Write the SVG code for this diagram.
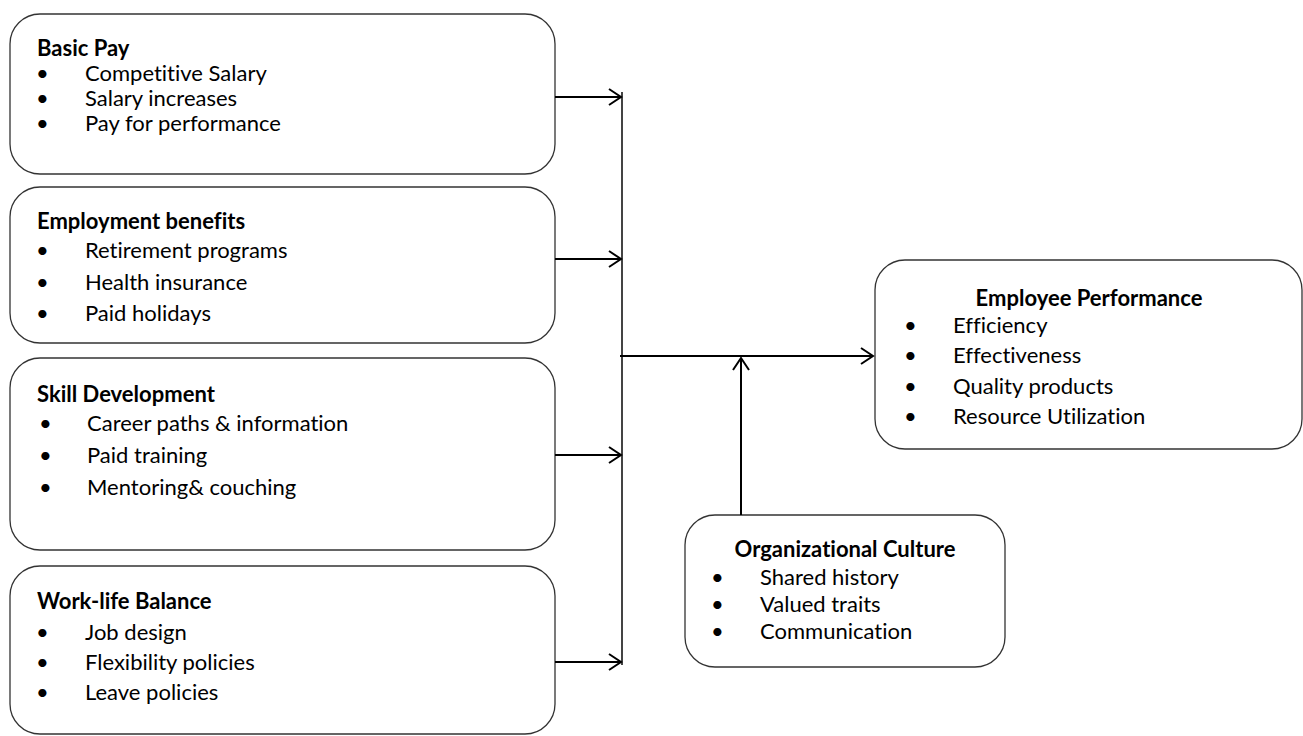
<svg xmlns="http://www.w3.org/2000/svg" width="1303" height="736" viewBox="0 0 1303 736">
<defs>
<marker id="arr" markerUnits="userSpaceOnUse" markerWidth="16" markerHeight="20" refX="13" refY="9" orient="auto">
<path d="M1,1 L13,9 L1,17" fill="none" stroke="#000" stroke-width="2"/>
</marker>
<style>
.box{fill:#fff;stroke:#333;stroke-width:1.3}
.t{font-family:Lato,"Liberation Sans",sans-serif;font-size:22px;fill:#000;font-variant-ligatures:none}
.b{font-weight:bold}
.c{stroke:#000;stroke-width:2;fill:none}
</style>
</defs>
<rect width="1303" height="736" fill="#fff"/>
<g id="basic-pay">
<rect class="box" x="10" y="14" width="545" height="160" rx="30"/>
<text class="t b" x="37" y="56">Basic Pay</text>
<text class="t" x="36" y="81">•</text><text class="t" x="85" y="81">Competitive Salary</text>
<text class="t" x="36" y="106">•</text><text class="t" x="85" y="106">Salary increases</text>
<text class="t" x="36" y="131">•</text><text class="t" x="85" y="131">Pay for performance</text>
</g>
<g id="employment-benefits">
<rect class="box" x="10" y="187" width="545" height="156" rx="30"/>
<text class="t b" x="37" y="229">Employment benefits</text>
<text class="t" x="36" y="258">•</text><text class="t" x="85" y="258">Retirement programs</text>
<text class="t" x="36" y="290">•</text><text class="t" x="85" y="290">Health insurance</text>
<text class="t" x="36" y="321">•</text><text class="t" x="85" y="321">Paid holidays</text>
</g>
<g id="skill-development">
<rect class="box" x="10" y="358" width="545" height="192" rx="30"/>
<text class="t b" x="37" y="402">Skill Development</text>
<text class="t" x="39" y="431">•</text><text class="t" x="87" y="431">Career paths &amp; information</text>
<text class="t" x="39" y="463">•</text><text class="t" x="87" y="463">Paid training</text>
<text class="t" x="39" y="495">•</text><text class="t" x="87" y="495">Mentoring&amp; couching</text>
</g>
<g id="work-life-balance">
<rect class="box" x="10" y="566" width="545" height="168" rx="30"/>
<text class="t b" x="37" y="609">Work-life Balance</text>
<text class="t" x="36" y="640">•</text><text class="t" x="85" y="640">Job design</text>
<text class="t" x="36" y="670">•</text><text class="t" x="85" y="670">Flexibility policies</text>
<text class="t" x="36" y="700">•</text><text class="t" x="85" y="700">Leave policies</text>
</g>
<g id="employee-performance">
<rect class="box" x="875" y="260" width="427" height="189" rx="30"/>
<text class="t b" x="1089" y="306" text-anchor="middle">Employee Performance</text>
<text class="t" x="904" y="333">•</text><text class="t" x="953" y="333">Efficiency</text>
<text class="t" x="904" y="363">•</text><text class="t" x="953" y="363">Effectiveness</text>
<text class="t" x="904" y="394">•</text><text class="t" x="953" y="394">Quality products</text>
<text class="t" x="904" y="424">•</text><text class="t" x="953" y="424">Resource Utilization</text>
</g>
<g id="organizational-culture">
<rect class="box" x="685" y="515" width="320" height="152" rx="30"/>
<text class="t b" x="845" y="557" text-anchor="middle">Organizational Culture</text>
<text class="t" x="711" y="585">•</text><text class="t" x="760" y="585">Shared history</text>
<text class="t" x="711" y="612">•</text><text class="t" x="760" y="612">Valued traits</text>
<text class="t" x="711" y="639">•</text><text class="t" x="760" y="639">Communication</text>
</g>
<g id="connectors">
<line x1="622" y1="92" x2="622" y2="665" stroke="#444" stroke-width="2"/>
<line class="c" x1="555" y1="97" x2="621" y2="97" marker-end="url(#arr)"/>
<line class="c" x1="555" y1="259" x2="621" y2="259" marker-end="url(#arr)"/>
<line class="c" x1="555" y1="455" x2="621" y2="455" marker-end="url(#arr)"/>
<line class="c" x1="555" y1="662" x2="621" y2="662" marker-end="url(#arr)"/>
<line class="c" x1="620" y1="356" x2="873" y2="356" marker-end="url(#arr)"/>
<line class="c" x1="741" y1="515" x2="741" y2="358" marker-end="url(#arr)"/>
</g>
</svg>
